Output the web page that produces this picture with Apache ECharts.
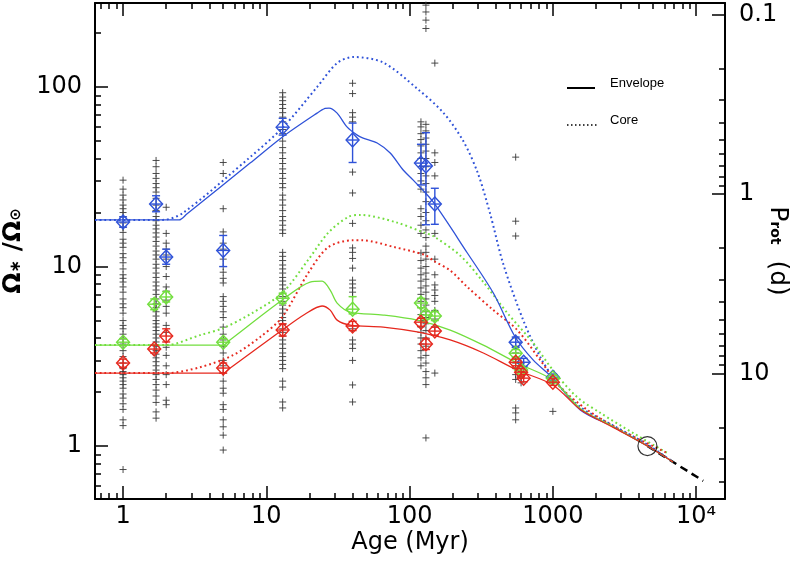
<!DOCTYPE html>
<html><head><meta charset="utf-8">
<script src="https://cdn.jsdelivr.net/npm/echarts@6/dist/echarts.min.js"></script>
<style>html,body{margin:0;padding:0;background:#fff}#c{width:790px;height:562px}</style>
</head><body><div id="c"></div>
<script>
// ---------- tick values ----------
const xMajor = [1, 10, 100, 1000, 10000];
const xMinor = [0.7,0.8,0.9,2,3,4,5,6,7,8,9,20,30,40,50,60,70,80,90,200,300,400,500,600,700,800,900,2000,3000,4000,5000,6000,7000,8000,9000];
const yMajor = [1, 10, 100];
const yMinor = [0.6,0.7,0.8,0.9,2,3,4,5,6,7,8,9,20,30,40,50,60,70,80,90,200];
const pMajor = [0.1, 1, 10];
const pMinor = [0.2,0.3,0.4,0.5,0.6,0.7,0.8,0.9,2,3,4,5,6,7,8,9,20,30,40,50];

// ---------- observed stars (age in Myr, Omega/Omega_sun) ----------
const clusterAges = [1, 1.7, 2, 5, 13, 40, 120, 130, 150, 550, 600, 1000];
const obs1 = [30.3,27,25,23.5,22,21,20,19,17.5,16.5,15.5,14.2,13.5,12.8,11.8,11.2,10.5,9.7,9,8.6,8.2,7.7,7.2,6.6,6.2,5.9,5.5,5.0,4.7,4.5,4.2,3.95,3.7,3.4,3.15,2.9,2.7,2.6,2.5,2.4,2.3,2.2,2.1,1.95,1.85,1.72,1.6,1.4,1.3,0.74];
const obs1_7 = [39,36,33,31,29,27.5,26,24,22,20.5,19,18,17,16.2,15.4,14.6,13.8,13,12.2,11.6,11,10.3,9.8,9.2,8.7,8.2,7.8,7.4,7.0,6.6,6.2,5.9,5.6,5.3,5.0,4.8,4.6,4.4,4.2,4.0,3.8,3.6,3.4,3.25,3.1,2.95,2.8,2.65,2.5,2.35,2.2,2.05,1.9,1.75,1.55,1.43];
const obs2 = [21.4,15.3,13.5,12.5,11.6,11.0,10.0,8.8,7.7,7.3,6.5,6.0,5.5,4.7,4.3,3.55,3.2,2.8,2.5,2.2,1.8,1.7];
const obs5 = [38,33,21,15.6,13.5,12.5,11,10,9.3,8.6,8.1,6.8,6.4,6.0,5.6,5.2,4.6,4.2,3.9,3.6,3.3,3.0,2.8,2.55,2.3,2.1,1.97,1.7,1.6,1.4,1.28,1.15,0.95];
const obs13 = [93,88,84,80,76,72,68,64,58,55,50,46,43,40,37.5,35,33,31,29,27.5,25,23.5,22,20.5,19,18,17,16,15.3,12,11.4,10.8,10.2,9.7,9.2,8.7,8.3,7.9,7.5,7.1,6.8,6.4,6.1,5.8,5.5,5.2,5.0,4.75,4.5,4.3,4.1,3.9,3.7,3.5,3.3,3.15,3.0,2.85,2.7,2.3,2.13,1.76,1.63];
const obs40 = [105,92,72,68,64,33.6,25.7,17.4,12.7,12.0,11.1,9.8,8.4,8.0,7.6,7.2,6.8,4.5,3.9,3.7,3.5,3.0,2.19,1.76];
const obs120 = [64,60,55,51,47,43,40,36,33,30,27,21,19,17,15.3,11.9,10.8,9.8,9.0,8.3,7.6,7.0,6.4,5.9,5.4,5.0,4.6,4.3,4.0,3.7,3.4,3.1,2.8];
const obs130 = [286,262,236,212,62,57,52,48,44,40,36,32,29,26,23,20,18,16,14.5,13,12,11,10,9.2,8.5,7.8,7.2,6.6,6.1,5.6,5.2,4.8,4.4,4.0,3.6,3.2,2.9,2.6,2.4,2.2,1.11];
const obs150 = [136,43,38,32,15.3,11,9.0,7.9,7.4,6.9,6.4,5.7,5.1,4.6,2.55];
const obs550 = [40.7,17.9,14.8,4.0,3.6,3.3,3.1,2.9,2.7,2.5,2.35,1.63,1.53,1.40];
const obs600 = [2.9,2.6,2.4,2.25];
const obs1000 = [2.4,2.3,1.56];
const clusterOmega = [obs1, obs1_7, obs2, obs5, obs13, obs40, obs120, obs130, obs150, obs550, obs600, obs1000];

// ---------- cluster means: [age, omega, low, high] ----------
const blueMean = [[1,17.7,16.6,18.9],[1.7,22.3,20.2,24.8],[2,11.3,10.3,12.5],[5,12.3,10,14.9],[13,59.8,54,67],[40,50.7,38,63],[120,37.7,28.5,48],[130,36.3,17.1,55.7],[150,22.3,17.2,27.3],[550,3.79,3.55,4.05],[625,2.93,2.78,3.08],[1000,2.42,2.32,2.52]];
const greenMean = [[1,3.79,3.62,3.97],[1.65,6.17,5.75,6.6],[2,6.77,6.35,7.25],[5,3.79,3.62,3.97],[13,6.66,6.25,7.1],[40,5.79,5.45,6.8],[120,6.26,5.9,6.65],[130,5.37,5.1,5.65],[150,5.3,5.0,5.6],[550,3.29,3.13,3.45],[600,2.65,2.52,2.78],[1000,2.39,2.3,2.48]];
const redMean = [[1,2.9,2.75,3.05],[1.65,3.47,3.3,3.65],[2,4.10,3.8,4.5],[5,2.72,2.55,2.9],[13,4.43,4.1,4.8],[40,4.66,4.4,4.95],[120,4.9,4.65,5.15],[130,3.7,3.45,3.95],[150,4.37,4.15,4.6],[550,2.93,2.8,3.05],[600,2.58,2.45,2.7],[625,2.39,2.28,2.5],[1000,2.27,2.18,2.37]];

// ---------- models: [age, omega] ----------
const blueEnvelope = [[0.637,18.2],[2.2,18.2],[2.46,18.2],[2.8,19.7],[7.7,37.7],[12.9,52.6],[22.6,71.6],[25.7,76],[27.4,76.4],[31.2,71.6],[36.7,59.8],[43.1,54],[47.4,52],[59.4,48.8],[73.2,42.9],[90.2,34.5],[106,30.3],[146,22.9],[253,11.9],[384,7.12],[546,4.05],[730,3.01],[1000,2.39],[1554,1.59],[2640,1.28],[4570,1.0],[6900,0.815]];
const blueCore = [[0.637,18.2],[1.7,18.2],[1.9,18.2],[2.62,19.9],[7.71,40.7],[13.1,59.8],[22.6,100],[31.2,136],[40.4,147],[65.4,137],[113,98],[172,72],[237,50],[300,33],[366,19.5],[451,10.3],[621,5.03],[817,3.13],[1073,2.24],[1554,1.65],[2640,1.3],[4570,1.02],[6900,0.815]];
const greenEnvelope = [[0.637,3.65],[4.5,3.65],[5,3.65],[5.6,3.91],[12.9,6.51],[20.2,8.2],[24.5,8.3],[27.9,7.4],[31.2,6.26],[38.5,5.58],[65.4,5.37],[113,5.03],[192,4.43],[327,3.65],[564,2.9],[1000,2.33],[1554,1.62],[2640,1.28],[4570,1.0],[6900,0.815]];
const greenCore = [[0.637,3.65],[1.8,3.65],[2.0,3.65],[3.45,4.15],[5,4.54],[7.96,5.51],[12.9,7.12],[19.6,10.9],[27,15.4],[37.3,18.9],[45.2,19.4],[79.3,17.7],[128,15.4],[146,14.8],[226,11.5],[327,8.2],[481,5.51],[730,3.75],[1000,2.65],[1479,1.87],[2143,1.53],[3640,1.18],[6300,0.914]];
const redEnvelope = [[0.637,2.55],[4.5,2.55],[5,2.55],[5.6,2.72],[12.9,4.43],[18.7,5.44],[24.5,6.03],[27.9,5.72],[31.2,5.03],[38.5,4.72],[65.4,4.6],[113,4.32],[192,3.9],[327,3.3],[564,2.65],[1000,2.19],[1554,1.6],[2640,1.27],[4570,1.0],[6900,0.815]];
const redCore = [[0.637,2.55],[1.8,2.55],[2.03,2.55],[3.45,2.75],[5.86,3.21],[9.06,4.05],[12.9,5.23],[19.6,9.2],[27,12.8],[40,14.0],[46.7,14.0],[79.3,12.8],[128,11.6],[146,10.8],[192,9.5],[253,7.69],[384,5.72],[564,4.43],[817,3.01],[1127,2.13],[1739,1.59],[2958,1.23],[6300,0.914]];
const sunPoint = [[4570, 1.0]];
const skumanich = [[4570, 1.0], [11200, 0.64]];

// ---------- styles ----------
const BLUE = '#2f52d8', GREEN = '#72de3e', RED = '#e6281e';
const FONT = 'DejaVu Sans';

const starData = [];
clusterAges.forEach((a, i) => clusterOmega[i].forEach(w => starData.push([a, w])));

function errRender(color) {
  return function (params, api) {
    const x = api.value(0), c = api.value(1), lo = api.value(2), hi = api.value(3);
    const pc = api.coord([x, c]), pl = api.coord([x, lo]), ph = api.coord([x, hi]);
    const cap = 4, hw = 7;
    const st = { stroke: color, lineWidth: 1.4, fill: null };
    return { type: 'group', children: [
      { type: 'line', shape: { x1: pl[0], y1: pl[1], x2: ph[0], y2: ph[1] }, style: st },
      { type: 'line', shape: { x1: pl[0]-cap, y1: pl[1], x2: pl[0]+cap, y2: pl[1] }, style: st },
      { type: 'line', shape: { x1: ph[0]-cap, y1: ph[1], x2: ph[0]+cap, y2: ph[1] }, style: st },
      { type: 'line', shape: { x1: pc[0]-hw+1, y1: pc[1], x2: pc[0]+hw-1, y2: pc[1] }, style: st },
      { type: 'polygon', shape: { points: [[pc[0], pc[1]-hw], [pc[0]+hw-0.5, pc[1]], [pc[0], pc[1]+hw], [pc[0]-hw+0.5, pc[1]]] }, style: st }
    ]};
  };
}

function lineSeries(data, color, dotted, z) {
  return { type: 'line', data: data, xAxisIndex: 0, yAxisIndex: 0, symbol: 'none', smooth: 0.3, z: z,
    lineStyle: dotted ? { color: color, width: 2, type: [1.8, 3] } : { color: color, width: 1.3 },
    silent: true, animation: false };
}
function meanSeries(data, color) {
  return { type: 'custom', data: data, xAxisIndex: 0, yAxisIndex: 0, renderItem: errRender(color),
    encode: { x: 0, y: [1, 2, 3] }, z: 10, animation: false, silent: true };
}

const baseX = { type: 'log', logBase: 10, min: 0.637, max: 15900, splitLine: { show: false }, gridIndex: 0 };
const baseY = { type: 'log', logBase: 10, min: 0.507, max: 294, splitLine: { show: false }, gridIndex: 0 };
const baseP = { type: 'log', logBase: 10, min: 25.4/294, max: 25.4/0.507, inverse: true, splitLine: { show: false }, gridIndex: 0 };
const lineOn = { show: true, onZero: false, lineStyle: { color: '#000', width: 2 } };
const lineOff = { show: false, onZero: false };
function ticks(vals, len) { return { show: true, inside: true, length: len, customValues: vals, lineStyle: { color: '#000', width: 1.5 } }; }
const noLabel = { show: false };

const option = {
  backgroundColor: '#fff',
  animation: false,
  grid: { left: 95, right: 65, top: 3, bottom: 63, containLabel: false, outerBoundsMode: 'none' },
  xAxis: [
    Object.assign({}, baseX, { position: 'bottom', axisLine: lineOn, axisTick: ticks(xMajor, 13),
      axisLabel: { customValues: xMajor, margin: 6, color: '#000', fontSize: 24, fontFamily: FONT,
        formatter: v => ({1: '1', 10: '10', 100: '100', 1000: '1000', 10000: '10⁴'})[Math.round(v)] || String(v) },
      name: 'Age (Myr)', nameLocation: 'middle', nameGap: 32, nameMoveOverlap: false,
      nameTextStyle: { color: '#000', fontSize: 24, fontFamily: FONT } }),
    Object.assign({}, baseX, { position: 'bottom', axisLine: lineOff, axisTick: ticks(xMinor, 6), axisLabel: noLabel }),
    Object.assign({}, baseX, { position: 'top', axisLine: lineOn, axisTick: ticks(xMajor, 13), axisLabel: noLabel }),
    Object.assign({}, baseX, { position: 'top', axisLine: lineOff, axisTick: ticks(xMinor, 6), axisLabel: noLabel })
  ],
  yAxis: [
    Object.assign({}, baseY, { position: 'left', axisLine: lineOn, axisTick: ticks(yMajor, 13),
      axisLabel: { customValues: yMajor, margin: 13, color: '#000', fontSize: 24, fontFamily: FONT,
        formatter: v => String(Math.round(v)) },
      name: '{a|Ω}{s|∗}{a| /Ω}{s|⊙}', nameLocation: 'middle', nameRotate: 90, nameGap: 64, nameMoveOverlap: false,
      nameTextStyle: { color: '#000', fontFamily: FONT, rich: {
        a: { fontSize: 25, fontFamily: FONT, color: '#000', fontWeight: 'bold', padding: [0, 0, 5, 0] },
        s: { fontSize: 15, fontFamily: FONT, color: '#000', fontWeight: 'bold' } } } }),
    Object.assign({}, baseY, { position: 'left', axisLine: lineOff, axisTick: ticks(yMinor, 6), axisLabel: noLabel }),
    Object.assign({}, baseP, { position: 'right', axisLine: lineOn, axisTick: ticks(pMajor, 13),
      axisLabel: { customValues: pMajor, margin: 14, color: '#000', fontSize: 24, fontFamily: FONT,
        formatter: v => (v < 0.5 ? '0.1' : String(Math.round(v))) },
      name: '{a|P}{s|rot}{a|  (d)}', nameLocation: 'middle', nameRotate: -90, nameGap: 34, nameMoveOverlap: false,
      nameTextStyle: { color: '#000', fontFamily: FONT, rich: {
        a: { fontSize: 25, fontFamily: FONT, color: '#000', padding: [0, 0, 6, 0] },
        s: { fontSize: 14, fontFamily: FONT, color: '#000', fontWeight: 'bold' } } } }),
    Object.assign({}, baseP, { position: 'right', axisLine: lineOff, axisTick: ticks(pMinor, 6), axisLabel: noLabel })
  ],
  graphic: [
    { type: 'line', shape: { x1: 567, y1: 88, x2: 595, y2: 88 }, style: { stroke: '#000', lineWidth: 2 } },
    { type: 'text', x: 610, y: 83, style: { text: 'Envelope', fontSize: 13, fontFamily: 'Liberation Sans', fill: '#000', verticalAlign: 'middle' } },
    { type: 'line', shape: { x1: 567, y1: 125, x2: 597, y2: 125 }, style: { stroke: '#000', lineWidth: 1.5, lineDash: [1.5, 2.5] } },
    { type: 'text', x: 610, y: 120, style: { text: 'Core', fontSize: 13, fontFamily: 'Liberation Sans', fill: '#000', verticalAlign: 'middle' } }
  ],
  series: [
    { type: 'scatter', data: starData, xAxisIndex: 0, yAxisIndex: 0, symbol: 'path://M0 5 L10 5 M5 0 L5 10', symbolSize: 7,
      itemStyle: { color: '#3a3a3a', borderColor: '#3a3a3a', borderWidth: 1, opacity: 0.9 }, z: 1, silent: true },
    { type: 'line', data: skumanich, symbol: 'none', lineStyle: { color: '#000', width: 2.5, type: [8, 5] }, z: 2, silent: true },
    lineSeries(blueCore, BLUE, true, 3),
    lineSeries(greenCore, GREEN, true, 3),
    lineSeries(redCore, RED, true, 3),
    lineSeries(blueEnvelope, BLUE, false, 4),
    lineSeries(greenEnvelope, GREEN, false, 4),
    lineSeries(redEnvelope, RED, false, 4),
    meanSeries(blueMean, BLUE),
    meanSeries(greenMean, GREEN),
    meanSeries(redMean, RED),
    { type: 'scatter', data: sunPoint, symbol: 'circle', symbolSize: 19,
      itemStyle: { color: 'rgba(0,0,0,0)', borderColor: '#000', borderWidth: 1.2 }, z: 12, silent: true }
  ]
};
const chart = echarts.init(document.getElementById('c'), null, { renderer: 'canvas' });
chart.setOption(option);
</script></body></html>
